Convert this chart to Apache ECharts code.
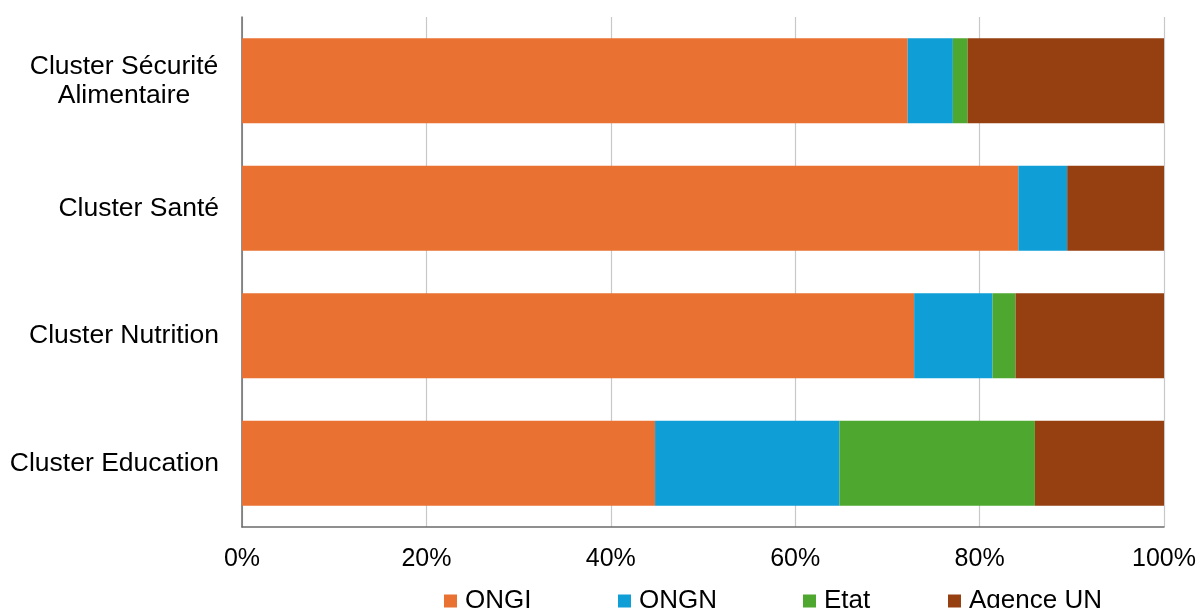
<!DOCTYPE html>
<html>
<head>
<meta charset="utf-8">
<script src="https://cdn.jsdelivr.net/npm/echarts@6/dist/echarts.min.js"></script>
<style>html,body{margin:0;padding:0;background:#fff;}#c{width:1201px;height:608px;}</style>
</head>
<body>
<div id="c"></div>
<script>
const categories = ['Cluster Sécurité\nAlimentaire', 'Cluster Santé', 'Cluster Nutrition', 'Cluster Education'];
const ongi = [72.2, 84.2, 72.9, 44.8];
const ongn = [4.9, 5.3, 8.5, 20.0];
const etat = [1.6, 0.0, 2.5, 21.2];
const agenceUN = [21.3, 10.5, 16.1, 14.0];
const xTicks = [0, 20, 40, 60, 80, 100];

const seriesNames = ['ONGI', 'ONGN', 'Etat', 'Agence UN'];
const seriesData = [ongi, ongn, etat, agenceUN];
const colors = ['#E97132', '#0F9ED5', '#4EA72E', '#963F11'];
const legendLeft = [439, 613, 798, 943];

const FONT = '"Liberation Sans", Arial, sans-serif';
const chart = echarts.init(document.getElementById('c'));
chart.setOption({
  animation: false,
  color: colors,
  textStyle: { fontFamily: FONT },
  grid: { left: 242, right: 37, top: 17, bottom: 81, containLabel: false },
  legend: seriesNames.map((n, i) => ({
    data: [n], left: legendLeft[i], top: 583,
    itemWidth: 13, itemHeight: 13, itemGap: 0,
    icon: 'rect',
    textStyle: { fontSize: 26, color: '#000', fontFamily: FONT, padding: [0, 0, 0, 3] }
  })),
  xAxis: {
    type: 'value', min: xTicks[0], max: xTicks[xTicks.length - 1], interval: 20,
    axisLine: { show: true, lineStyle: { color: '#6b6b6b', width: 1.5 } },
    axisTick: { show: false },
    splitLine: { show: true, lineStyle: { color: '#c8c8c8', width: 1.2 } },
    axisLabel: { formatter: '{value}%', fontSize: 25, color: '#000', margin: 20, fontFamily: FONT }
  },
  yAxis: {
    type: 'category', data: categories, inverse: true,
    axisLine: { show: true, lineStyle: { color: '#6b6b6b', width: 1.5 } },
    axisTick: { show: false },
    splitLine: { show: false },
    axisLabel: {
      fontSize: 26.5, color: '#000', margin: 23, fontFamily: FONT, lineHeight: 29,
      formatter: function (v) {
        if (v.indexOf('\n') >= 0) {
          return v.split('\n').map(s => '{c|' + s + '}').join('\n');
        }
        return v;
      },
      rich: { c: { fontSize: 26.5, color: '#000', fontFamily: FONT, width: 190, align: 'center', lineHeight: 29 } }
    }
  },
  series: seriesNames.map((n, i) => ({
    name: n, type: 'bar', stack: 'total', data: seriesData[i],
    barCategoryGap: '33.3%',
    itemStyle: { color: colors[i] }
  }))
});
</script>
</body>
</html>
